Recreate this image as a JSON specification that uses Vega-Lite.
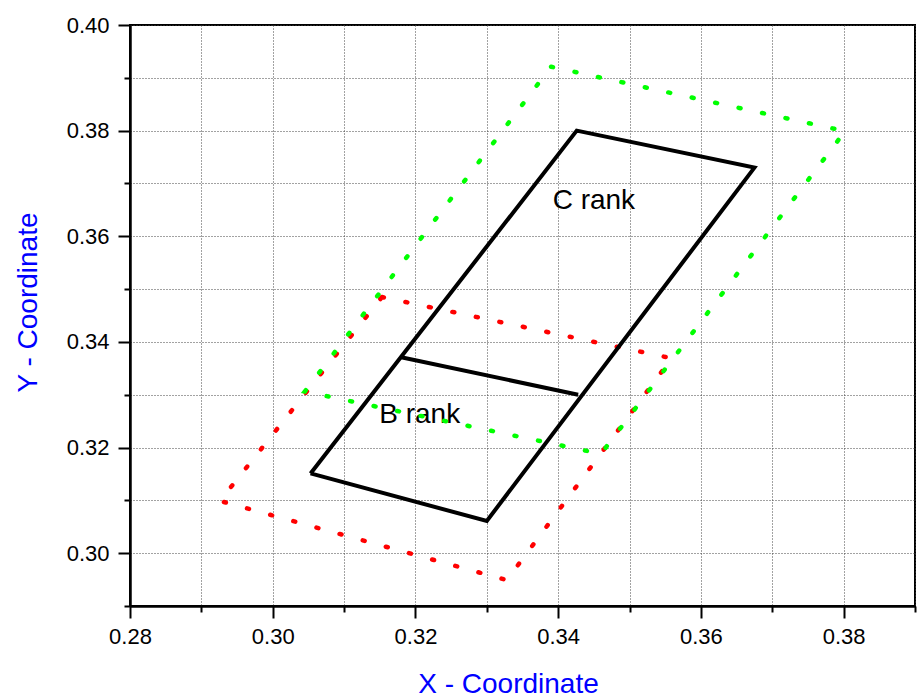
{
  "$schema": "https://vega.github.io/schema/vega-lite/v6.json",
  "width": 785,
  "height": 581,
  "autosize": {"type": "none"},
  "padding": {"left": 130, "top": 25, "right": 2, "bottom": 94},
  "background": "white",
  "config": {
    "view": {"stroke": "black", "strokeWidth": 2},
    "font": "Liberation Sans"
  },
  "datasets": {
    "lines": [
      {"series": "red", "order": 1, "x": 0.3153, "y": 0.3485},
      {"series": "red", "order": 2, "x": 0.3559, "y": 0.3369},
      {"series": "red", "order": 3, "x": 0.3328, "y": 0.2949},
      {"series": "red", "order": 4, "x": 0.2926, "y": 0.3099},
      {"series": "red", "order": 5, "x": 0.3153, "y": 0.3485},
      {"series": "green", "order": 1, "x": 0.3390, "y": 0.3921},
      {"series": "green", "order": 2, "x": 0.3802, "y": 0.3799},
      {"series": "green", "order": 3, "x": 0.3460, "y": 0.3188},
      {"series": "green", "order": 4, "x": 0.3045, "y": 0.3306},
      {"series": "green", "order": 5, "x": 0.3390, "y": 0.3921},
      {"series": "frame", "order": 1, "x": 0.3053, "y": 0.3151},
      {"series": "frame", "order": 2, "x": 0.3300, "y": 0.3061},
      {"series": "frame", "order": 3, "x": 0.3675, "y": 0.3730},
      {"series": "frame", "order": 4, "x": 0.3426, "y": 0.3800},
      {"series": "frame", "order": 5, "x": 0.3053, "y": 0.3151},
      {"series": "divider", "order": 1, "x": 0.3180, "y": 0.3371},
      {"series": "divider", "order": 2, "x": 0.3428, "y": 0.3300}
    ],
    "labels": [
      {"label": "C rank", "x": 0.3450, "y": 0.3652},
      {"label": "B rank", "x": 0.3206, "y": 0.3247}
    ]
  },
  "encoding": {
    "x": {
      "field": "x",
      "type": "quantitative",
      "scale": {"domain": [0.28, 0.39], "nice": false, "zero": false},
      "axis": {
        "values": [0.28, 0.29, 0.30, 0.31, 0.32, 0.33, 0.34, 0.35, 0.36, 0.37, 0.38, 0.39],
        "labelExpr": "round(datum.value*100)%2==0 ? format(datum.value,'.2f') : ''",
        "tickSize": {"condition": {"test": "round(datum.value*100)%2==0", "value": 12}, "value": 6},
        "grid": true,
        "gridDash": [1, 2],
        "gridColor": "#444444",
        "gridWidth": 1,
        "gridOpacity": 1,
        "domainColor": "black",
        "domainWidth": 2.5,
        "tickColor": "black",
        "tickWidth": 2,
        "labelFontSize": 22,
        "labelFont": "Liberation Sans",
        "labelColor": "black",
        "labelPadding": 8,
        "labelFlush": false,
        "labelOverlap": false,
        "title": "X - Coordinate",
        "titleColor": "#0000FF",
        "titleFont": "Liberation Sans",
        "titleFontSize": 28,
        "titleFontWeight": "normal",
        "titleX": 378,
        "titleY": 86,
        "titleBaseline": "alphabetic",
        "titleAlign": "center"
      }
    },
    "y": {
      "field": "y",
      "type": "quantitative",
      "scale": {"domain": [0.29, 0.40], "nice": false, "zero": false},
      "axis": {
        "values": [0.29, 0.30, 0.31, 0.32, 0.33, 0.34, 0.35, 0.36, 0.37, 0.38, 0.39, 0.40],
        "labelExpr": "round(datum.value*100)%2==0 ? format(datum.value,'.2f') : ''",
        "tickSize": {"condition": {"test": "round(datum.value*100)%2==0", "value": 12}, "value": 6},
        "grid": true,
        "gridDash": [1, 2],
        "gridColor": "#444444",
        "gridWidth": 1,
        "gridOpacity": 1,
        "domainColor": "black",
        "domainWidth": 2.5,
        "tickColor": "black",
        "tickWidth": 2,
        "labelFontSize": 22,
        "labelFont": "Liberation Sans",
        "labelColor": "black",
        "labelPadding": 9,
        "labelFlush": false,
        "labelOverlap": false,
        "title": "Y - Coordinate",
        "titleColor": "#0000FF",
        "titleFont": "Liberation Sans",
        "titleFontSize": 28,
        "titleFontWeight": "normal",
        "titleX": -94,
        "titleY": 277,
        "titleBaseline": "alphabetic",
        "titleAlign": "center"
      }
    }
  },
  "layer": [
    {
      "data": {"name": "labels"},
      "mark": {"type": "text", "fontSize": 28, "font": "Liberation Sans", "color": "black", "align": "center", "baseline": "alphabetic"},
      "encoding": {"text": {"field": "label"}}
    },
    {
      "data": {"name": "lines"},
      "transform": [{"filter": "datum.series == 'red'"}],
      "mark": {"type": "line", "stroke": "#FF0000", "strokeWidth": 4.5, "strokeDash": [2, 22], "strokeCap": "round"},
      "encoding": {"order": {"field": "order", "type": "quantitative"}}
    },
    {
      "data": {"name": "lines"},
      "transform": [{"filter": "datum.series == 'green'"}],
      "mark": {"type": "line", "stroke": "#00FF00", "strokeWidth": 4.5, "strokeDash": [2, 22], "strokeCap": "round"},
      "encoding": {"order": {"field": "order", "type": "quantitative"}}
    },
    {
      "data": {"name": "lines"},
      "transform": [{"filter": "datum.series == 'frame' || datum.series == 'divider'"}],
      "mark": {"type": "line", "stroke": "black", "strokeWidth": 4, "strokeJoin": "miter"},
      "encoding": {
        "detail": {"field": "series", "type": "nominal"},
        "order": {"field": "order", "type": "quantitative"}
      }
    }
  ]
}
